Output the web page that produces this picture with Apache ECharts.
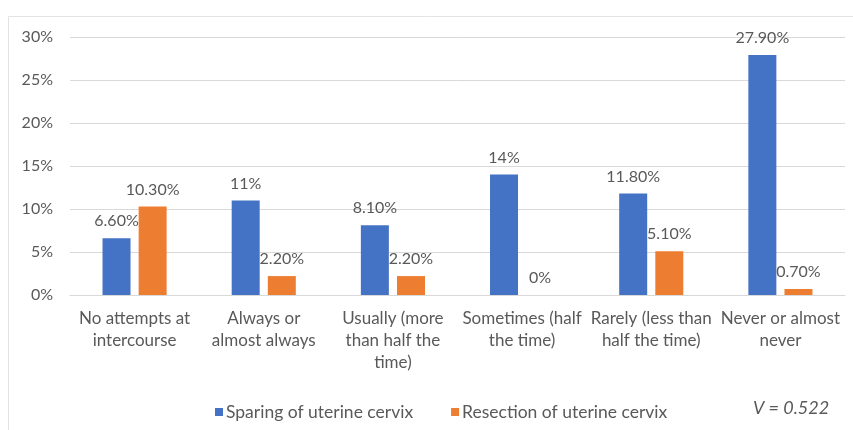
<!DOCTYPE html>
<html>
<head>
<meta charset="utf-8">
<script src="https://cdn.jsdelivr.net/npm/echarts@6/dist/echarts.min.js"></script>
<style>
  html, body { margin: 0; padding: 0; background: #fff; }
  #chart { width: 853px; height: 430px; }
</style>
</head>
<body>
<div id="chart"></div>
<script>
// Frequency categories (x axis)
const categories = [
  'No attempts at\nintercourse',
  'Always or\nalmost always',
  'Usually (more\nthan half the\ntime)',
  'Sometimes (half\nthe time)',
  'Rarely (less than\nhalf the time)',
  'Never or almost\nnever'
];

// Percentages per group
const sparingValues   = [6.6, 11, 8.1, 14, 11.8, 27.9];
const resectionValues = [10.3, 2.2, 2.2, 0, 5.1, 0.7];

const seriesNames = ['Sparing of uterine cervix', 'Resection of uterine cervix'];
const yTicks = [0, 5, 10, 15, 20, 25, 30];
const statText = 'V = 0.522';

const textColor = '#595959';
const fontFamily = 'Lato, "Open Sans", sans-serif';

function pctLabel(v) {
  return Number.isInteger(v) ? v + '%' : v.toFixed(2) + '%';
}

const chart = echarts.init(document.getElementById('chart'));

const labelStyle = {
  show: true,
  position: 'top',
  distance: 9,
  color: textColor,
  fontSize: 16,
  fontFamily: fontFamily,
  formatter: p => pctLabel(p.value)
};

chart.setOption({
  animation: false,
  grid: { left: 70, right: 8, top: 37, bottom: 135 },
  graphic: [
    {
      type: 'rect',
      shape: { x: 8.5, y: 16.5, width: 860, height: 430 },
      style: { fill: 'none', stroke: '#e3e3e3', lineWidth: 1 },
      silent: true
    },
    {
      type: 'text',
      left: 753,
      top: 399,
      style: {
        text: statText,
        fill: textColor,
        fontSize: 18,
        fontStyle: 'italic',
        fontFamily: fontFamily
      }
    }
  ],
  legend: {
    left: 210,
    top: 398,
    itemWidth: 8,
    itemHeight: 8,
    itemGap: 38,
    icon: 'rect',
    textStyle: { color: textColor, fontSize: 17.5, fontFamily: fontFamily, padding: [0, 0, 0, -2] },
    data: seriesNames
  },
  xAxis: {
    type: 'category',
    data: categories,
    axisLine: { show: true, lineStyle: { color: '#d9d9d9' } },
    axisTick: { show: false },
    axisLabel: {
      interval: 0,
      color: textColor,
      fontSize: 17,
      lineHeight: 22,
      margin: 13,
      fontFamily: fontFamily
    }
  },
  yAxis: {
    type: 'value',
    min: yTicks[0],
    max: yTicks[yTicks.length - 1],
    interval: yTicks[1] - yTicks[0],
    axisLine: { show: false },
    axisTick: { show: false },
    splitLine: { lineStyle: { color: '#d9d9d9' } },
    axisLabel: {
      color: textColor,
      fontSize: 16,
      margin: 17,
      fontFamily: fontFamily,
      formatter: v => v + '%'
    }
  },
  series: [
    {
      name: seriesNames[0],
      type: 'bar',
      data: sparingValues,
      barWidth: 28,
      barGap: '29%',
      itemStyle: { color: '#4472C4' },
      label: labelStyle
    },
    {
      name: seriesNames[1],
      type: 'bar',
      data: resectionValues,
      barWidth: 28,
      barGap: '29%',
      itemStyle: { color: '#ED7D31' },
      label: labelStyle
    }
  ]
});
</script>
</body>
</html>
